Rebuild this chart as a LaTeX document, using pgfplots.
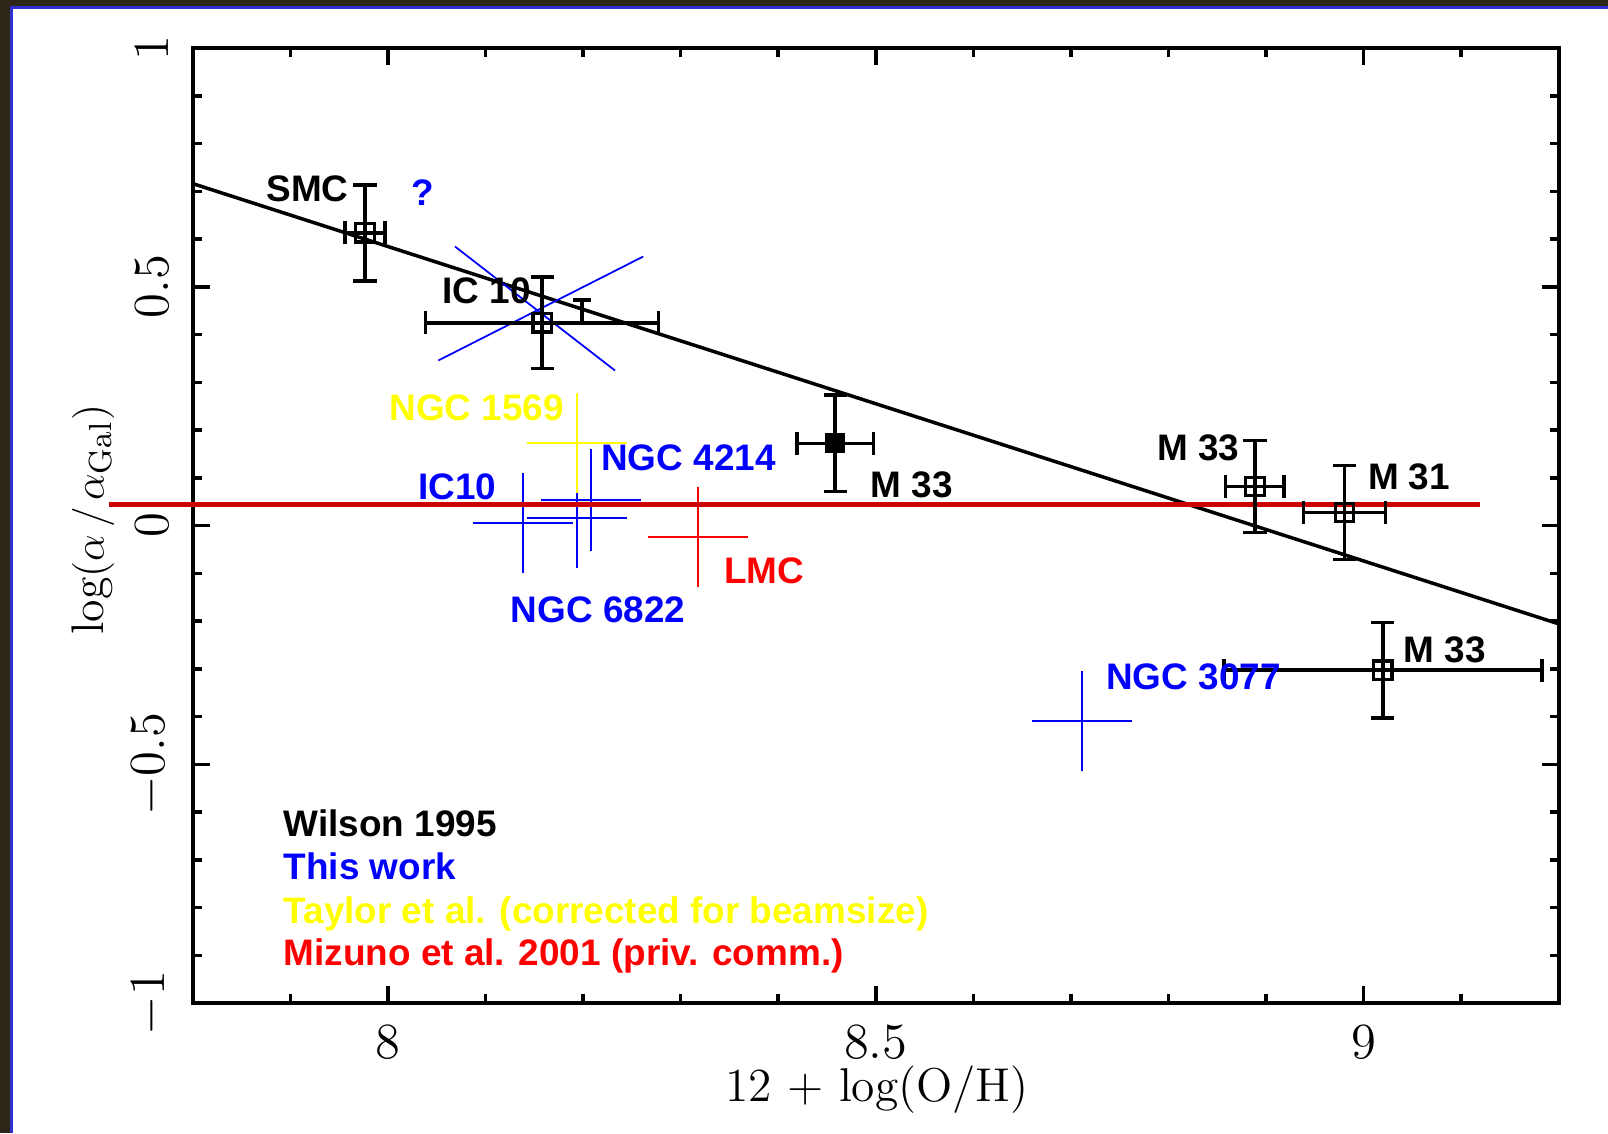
\documentclass[border=0pt]{standalone}
\usepackage{pgfplots}
\pgfplotsset{compat=1.18}
\usepackage{pgfplotstable}
\usepackage{fontspec}
\newfontfamily\hv{Liberation Sans}
\definecolor{cblue}{RGB}{0,0,255}
\definecolor{cyel}{RGB}{255,255,0}
\definecolor{cred}{RGB}{255,0,0}
\definecolor{cdred}{RGB}{204,0,0}
\definecolor{bord}{RGB}{48,48,208}
\definecolor{bgc}{RGB}{45,38,25}
\newcommand\lab{\hv\bfseries\fontsize{10.5}{12}\selectfont}

% Wilson 1995 (black squares)
\pgfplotstableread{
x y ex ey
7.9765 0.613 0.0205 0.1005
8.158 0.4245 0.1194 0.096
8.8886 0.0817 0.030 0.096
8.9802 0.0272 0.042 0.098
9.0197 -0.303 0.163 0.100
}\wilson
% This work (blue crosses)
\pgfplotstableread{
x y ex ey
8.1384 0.0057 0.0512 0.1047
8.2081 0.0528 0.0512 0.1068
8.1937 0.0161 0.0512 0.105
8.7114 -0.410 0.0512 0.105
}\thiswork

\begin{document}
\begin{tikzpicture}[x=1cm,y=1cm]
\useasboundingbox (0,0) rectangle (16.08,11.33);
\fill[bgc] (0,0) rectangle (16.08,11.33);
\fill[white] (0.117,0) rectangle (16.08,11.257);
\draw[bord, line width=0.7pt] (0.117,0) -- (0.117,11.257) -- (16.08,11.257);
\begin{axis}[
  at={(1.928cm,1.30cm)}, anchor=south west,
  scale only axis, width=13.66cm, height=9.55cm,
  xmin=7.8, xmax=9.2, ymin=-1, ymax=1,
  clip=false,
  axis line style={line width=1.2pt},
  xtick={8,8.5,9},
  minor xtick={7.9,8.1,8.2,8.3,8.4,8.6,8.7,8.8,8.9,9.1},
  ytick={-1,-0.5,0,0.5,1},
  minor y tick num=4,
  major tick length=1.7mm, minor tick length=0.9mm,
  every tick/.style={black, line width=1pt},
  tick label style={font=\fontsize{13.5}{15}\selectfont},
  xticklabel style={yshift=-1mm},
  yticklabel style={xshift=-1.2mm, rotate=90, anchor=south},
  xlabel={12 + log(O/H)},
  xlabel style={at={(axis description cs:0.501,-0.091)}, anchor=center, font=\fontsize{13.5}{15}\selectfont},
  ylabel={$\log(\alpha\,/\,\alpha_{\mathrm{Gal}})$},
  ylabel style={at={(axis description cs:-0.0731,0.506)}, anchor=center, font=\fontsize{13}{15}\selectfont},
]
% trend line
\addplot[black, line width=1pt] coordinates {(7.8,0.716) (9.2,-0.206)};
% blue X through IC 10
\addplot[cblue, line width=0.5pt] coordinates {(8.0687,0.5843) (8.2327,0.3246)};
\addplot[cblue, line width=0.5pt] coordinates {(8.0516,0.3456) (8.2617,0.5634)};
% This work
\addplot[draw=none, mark=none, error bars/.cd, x dir=both, x explicit, y dir=both, y explicit,
  error mark=none, error bar style={draw=cblue, line width=0.55pt}]
  table[x=x, y=y, x error=ex, y error=ey] {\thiswork};
% Taylor et al.
\addplot[draw=none, mark=none, error bars/.cd, x dir=both, x explicit, y dir=both, y explicit,
  error mark=none, error bar style={draw=cyel, line width=0.55pt}]
  coordinates {(8.1937,0.1732) +- (0.0512,0.1047)};
% Mizuno et al.
\addplot[draw=none, mark=none, error bars/.cd, x dir=both, x explicit, y dir=both, y explicit,
  error mark=none, error bar style={draw=cred, line width=0.55pt}]
  coordinates {(8.3178,-0.0247) +- (0.0512,0.1047)};
% red horizontal line
\addplot[cdred, line width=1.5pt] coordinates {(7.714,0.0434) (9.119,0.0434)};
% Wilson 1995
\addplot[black, only marks, mark=square, mark size=2.6pt, mark options={line width=0.9pt},
  error bars/.cd, x dir=both, x explicit, y dir=both, y explicit,
  error bar style={line width=1pt},
  error mark options={rotate=90, line width=1pt, mark size=3.3pt}]
  table[x=x, y=y, x error=ex, y error=ey] {\wilson};
\addplot[black, only marks, mark=square*, mark size=2.6pt,
  error bars/.cd, x dir=both, x explicit, y dir=both, y explicit,
  error bar style={line width=1pt},
  error mark options={rotate=90, line width=1pt, mark size=3.3pt}]
  coordinates {(8.4584,0.1722) +- (0.0393,0.101)};
\addplot[draw=none, mark=none,
  error bars/.cd, y dir=both, y explicit,
  error bar style={draw=black, line width=1pt},
  error mark options={rotate=90, draw=black, line width=1pt, mark size=2.5pt}]
  coordinates {(8.199,0.4486) +- (0,0.024)};
% labels
\begin{scope}[every node/.style={inner sep=0pt}]
\node[anchor=base, text=black] at (axis cs:7.9176,0.678) {\lab SMC};
\node[anchor=base, text=cblue] at (axis cs:8.0354,0.670) {\lab ?};
\node[anchor=base, text=black] at (axis cs:8.101,0.4643) {\lab IC 10};
\node[anchor=base, text=cyel] at (axis cs:8.0908,0.2200) {\lab NGC 1569};
\node[anchor=base, text=cblue] at (axis cs:8.308,0.1152) {\lab NGC 4214};
\node[anchor=base, text=cblue] at (axis cs:8.0713,0.0538) {\lab IC10};
\node[anchor=base, text=cred] at (axis cs:8.3854,-0.122) {\lab LMC};
\node[anchor=base, text=cblue] at (axis cs:8.2153,-0.2023) {\lab NGC 6822};
\node[anchor=base, text=black] at (axis cs:8.5368,0.0593) {\lab M 33};
\node[anchor=base, text=black] at (axis cs:8.8307,0.1363) {\lab M 33};
\node[anchor=base, text=black] at (axis cs:9.0465,0.0748) {\lab M 31};
\node[anchor=base, text=cblue] at (axis cs:8.8256,-0.343) {\lab NGC 3077};
\node[anchor=base, text=black] at (axis cs:9.083,-0.287) {\lab M 33};
% legend text
\node[anchor=base west, text=black] at (axis cs:7.8925,-0.651) {\lab Wilson 1995};
\node[anchor=base west, text=cblue] at (axis cs:7.8925,-0.742) {\lab This work};
\node[anchor=base west, text=cyel] at (axis cs:7.8925,-0.833) {\lab Taylor et al. (corrected for beamsize)};
\node[anchor=base west, text=cred] at (axis cs:7.8925,-0.922) {\lab Mizuno et al. 2001 (priv. comm.)};
\end{scope}
\end{axis}
\end{tikzpicture}
\end{document}
